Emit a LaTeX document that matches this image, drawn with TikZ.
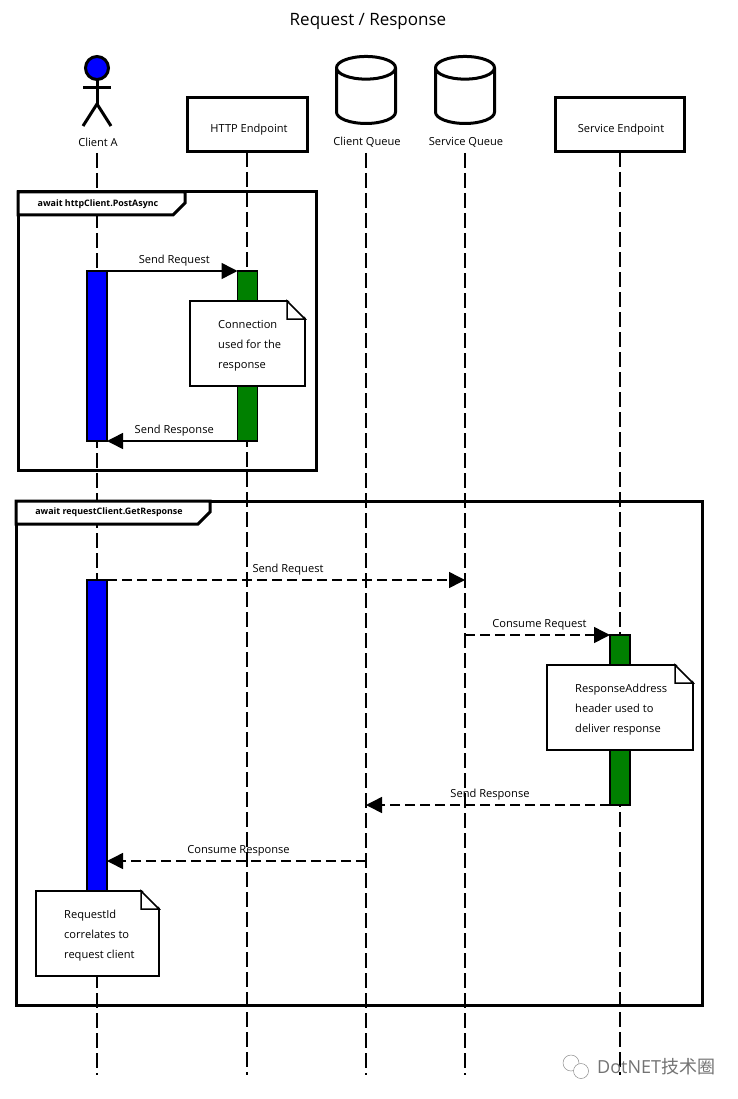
\documentclass[tikz,border=0pt]{standalone}
\usepackage{fontspec}
\setmainfont{Open Sans}
\newfontfamily\cjkfont{Noto Sans CJK SC}
\usetikzlibrary{arrows.meta, positioning, shapes.geometric}

\begin{document}
\begin{tikzpicture}[x=1pt, y=-1pt]

\tikzset{label/.style = {font=\fontsize{11.1}{13}\selectfont, inner sep=1pt}}
\tikzset{msglabel/.style = {label, above=3pt, xshift=2pt}}
\tikzset{box/.style = {shape=rectangle, draw, line width=3pt, outer sep=0pt, minimum height=54pt}}
\tikzset{queue/.style = {shape=cylinder, draw, line width=3pt, outer sep=0pt, shape border rotate=90, aspect=3.4, minimum width=59pt, minimum height=67pt}}
\tikzset{lifeline/.style = {line width=1.6pt, dash pattern=on 15pt off 5pt}}
\tikzset{frame/.style = {line width=3pt}}
\tikzset{bar/.style = {shape=rectangle, draw, line width=1.5pt, outer sep=0pt, minimum width=20pt, inner sep=0pt}}
\tikzset{notebox/.style = {shape=rectangle, draw, fill=white, line width=1.5pt, outer sep=0pt, inner sep=0pt}}
\tikzset{notetext/.style = {font=\fontsize{11.1}{20}\selectfont, align=left, inner sep=0pt, anchor=west}}
\tikzset{msg/.style = {line width=1.5pt, -{Triangle[length=16pt, width=16pt]}}}
\tikzset{msgdash/.style = {msg, dash pattern=on 10pt off 5pt}}
\useasboundingbox (0,0) rectangle (738,1099);

\node[font=\fontsize{17}{20}\selectfont] (title) at (368,21.5) {Request / Response};

% participants
\node[label] (clientA) at (98,142.5) {Client A};
\node[box, minimum width=120pt] (http) at (247,125) {};
\node[label] (httpText) at (249,129.5) {HTTP Endpoint};
\node[queue] (clientQ) at (366,99) {};
\node[label] (clientQText) at (367,142.5) {Client Queue};
\node[queue] (serviceQ) at (465,99) {};
\node[label] (serviceQText) at (466,142.5) {Service Queue};
\node[box, minimum width=129pt] (service) at (620,125) {};
\node[label] (serviceText) at (621,129.5) {Service Endpoint};

% actor
\coordinate (neck) at (97,80);
\coordinate (hip) at (97,104);
\coordinate (armL) at (83,88);
\coordinate (armR) at (111,88);
\coordinate (footL) at (83,126);
\coordinate (footR) at (111,126);
\node[shape=circle, draw, fill=blue, line width=3pt, minimum size=23pt, inner sep=0pt] (head) at (97,68) {};
\draw[line width=3pt] (head) -- (neck) -- (hip);
\draw[line width=3pt] (armL) -- (armR);
\draw[line width=3pt] (footL) -- (hip) -- (footR);

% lifelines
\coordinate (clientAEnd) at (97,1075);
\coordinate (httpEnd) at (247,1075);
\coordinate (clientQEnd) at (366,1075);
\coordinate (serviceQEnd) at (465,1075);
\coordinate (serviceEnd) at (620,1075);
\coordinate (clientATop) at (97,153);
\coordinate (clientQTop) at (366,153);
\coordinate (serviceQTop) at (465,153);
\draw[lifeline] (clientATop) -- (clientAEnd);
\draw[lifeline] (http.south) -- (httpEnd);
\draw[lifeline] (clientQTop) -- (clientQEnd);
\draw[lifeline] (serviceQTop) -- (serviceQEnd);
\draw[lifeline] (service.south) -- (serviceEnd);

% frames
\draw[frame] (18,192) rectangle (316.5,470.5);
\draw[frame, fill=white] (18,192) -- (185,192) -- (185,203) -- (173,215) -- (18,215) -- cycle;
\node[font=\fontsize{8.9}{10}\bfseries\selectfont] (frameA) at (98,204.5) {await httpClient.PostAsync};
\draw[frame] (16,501) rectangle (702.5,1005);
\draw[frame, fill=white] (16,501) -- (210,501) -- (210,512) -- (198,524) -- (16,524) -- cycle;
\node[font=\fontsize{8.9}{10}\bfseries\selectfont] (frameB) at (109,512.5) {await requestClient.GetResponse};

% activations
\node[bar, fill=blue, minimum height=170pt] (barA) at (97,356) {};
\node[bar, fill=green!50!black, minimum height=170pt] (barB) at (247.5,356) {};
\node[bar, fill=blue, minimum height=396pt] (barC) at (97,778) {};
\node[bar, fill=green!50!black, minimum height=170pt] (barD) at (620,720) {};

% notes
\node[notebox, minimum width=115pt, minimum height=85pt] (noteA) at (247.5,343.5) {};
\node[notetext] (noteAText) at ([xshift=28pt,yshift=-2.5pt]noteA.west) {Connection\\used for the\\response};
\node[notebox, minimum width=146pt, minimum height=85pt] (noteB) at (620,707.5) {};
\node[notetext] (noteBText) at ([xshift=28pt,yshift=-2.5pt]noteB.west) {ResponseAddress\\header used to\\deliver response};
\node[notebox, minimum width=123pt, minimum height=85pt] (noteC) at (97.5,933.5) {};
\node[notetext] (noteCText) at ([xshift=28pt,yshift=-2.5pt]noteC.west) {RequestId\\correlates to\\request client};
\foreach \n in {noteA, noteB, noteC} {
  \fill[white] ([xshift=-17.2pt,yshift=1pt]\n.north east) -- ([xshift=1pt,yshift=1pt]\n.north east) -- ([xshift=1pt,yshift=-17.2pt]\n.north east) -- cycle;
  \draw[line width=1.5pt, line join=miter] ([xshift=-18pt]\n.north east) -- ([yshift=-18pt]\n.north east) -- ([xshift=-18pt,yshift=-18pt]\n.north east) -- cycle;
}

% messages
\coordinate (sendQ) at (465,580);
\coordinate (consumeQ) at (465,635);
\coordinate (replyQ) at (366,805);
\coordinate (consumeR) at (366,861);
\coordinate (consumeA) at (107,861);
\draw[msg] (barA.north east) -- node[msglabel] (m1) {Send Request} (barB.north west);
\draw[msg] (barB.south west) -- node[msglabel] (m2) {Send Response} (barA.south east);
\draw[msgdash] (barC.north east) -- node[msglabel] (m3) {Send Request} (sendQ);
\draw[msgdash] (consumeQ) -- node[msglabel] (m4) {Consume Request} (barD.north west);
\draw[msgdash] (barD.south west) -- node[msglabel] (m5) {Send Response} (replyQ);
\draw[msgdash] (consumeR) -- node[msglabel] (m6) {Consume Response} (consumeA);

% watermark
\node[text=black!55, font=\fontsize{18}{20}\selectfont, anchor=west, inner sep=0pt] (mark) at (597,1067) {DotNET{\cjkfont 技术圈}};
\draw[black!45, line width=0.5pt, fill=white] (571,1063) circle (8pt);
\draw[black!45, line width=0.5pt, fill=white] (581,1071) circle (7.5pt);

\end{tikzpicture}
\end{document}
